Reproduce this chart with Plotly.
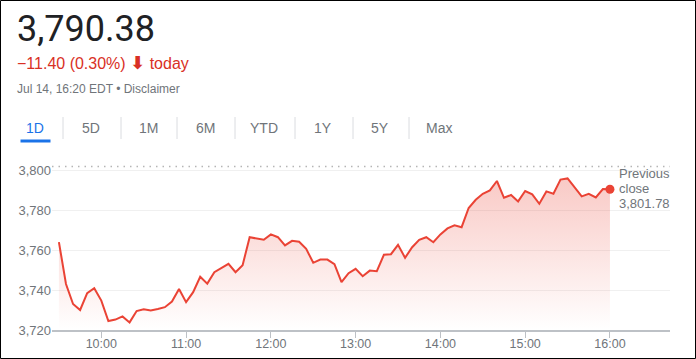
import plotly.graph_objects as go
import pandas as pd

# ---- data ----
session_date = "2020-07-14"
start_time = "09:30"
interval_minutes = 5
prices = [
    3763.9, 3743.0, 3733.0, 3730.0, 3738.4, 3740.9,            # 9:30-9:55
    3734.7, 3724.5, 3725.2, 3726.8, 3723.8, 3729.5,            # 10:00-10:25
    3730.4, 3729.7, 3730.5, 3731.4, 3734.2, 3740.5,            # 10:30-10:55
    3733.9, 3738.9, 3746.6, 3743.2, 3748.9, 3751.1,            # 11:00-11:25
    3753.1, 3748.9, 3752.4, 3766.4, 3765.6, 3765.1,            # 11:30-11:55
    3767.8, 3766.4, 3762.3, 3764.6, 3764.1, 3760.6,            # 12:00-12:25
    3753.6, 3755.2, 3755.2, 3752.9, 3743.9, 3748.4,            # 12:30-12:55
    3750.6, 3746.9, 3749.7, 3749.4, 3757.6, 3757.9,            # 13:00-13:25
    3762.6, 3756.1, 3761.4, 3765.1, 3766.4, 3763.9,            # 13:30-13:55
    3767.8, 3770.8, 3772.3, 3771.4, 3781.0, 3785.1,            # 14:00-14:25
    3788.1, 3789.8, 3794.5, 3786.1, 3787.5, 3784.3,            # 14:30-14:55
    3789.5, 3787.8, 3783.1, 3789.3, 3788.1, 3795.2,            # 15:00-15:25
    3795.8, 3791.1, 3786.8, 3788.1, 3786.3, 3790.5,            # 15:30-15:55
    3790.38,                                                   # 16:00
]
previous_close = 3801.78
last_price = "3,790.38"
change_text = "−11.40 (0.30%)"
timestamp_text = "Jul 14, 16:20 EDT • Disclaimer"
tabs = ["1D", "5D", "1M", "6M", "YTD", "1Y", "5Y", "Max"]
y_ticks = [3720, 3740, 3760, 3780, 3800]
x_ticks = ["10:00", "11:00", "12:00", "13:00", "14:00", "15:00", "16:00"]

times = pd.date_range(f"{session_date} {start_time}", periods=len(prices),
                      freq=f"{interval_minutes}min")

# ---- layout geometry (pixels) ----
W, H = 696, 359
ML, MR, MT, MB = 52, 26, 160, 29
PW, PH = W - ML - MR, H - MT - MB


def px(x):
    return (x - ML) / PW


def py(y):
    return (H - MB - y) / PH


RED = "#ea4335"
GRAY = "#70757a"
FONT = "Liberation Sans, Arial, sans-serif"

fig = go.Figure()
fig.add_trace(go.Scatter(
    x=times, y=prices, mode="lines",
    line=dict(color=RED, width=2),
    fill="tozeroy",
    fillgradient=dict(type="vertical",
                      colorscale=[[0, "rgba(234,67,53,0)"],
                                  [1, "rgba(234,67,53,0.30)"]],
                      start=y_ticks[0], stop=y_ticks[-1]),
    hoverinfo="skip", showlegend=False,
))
fig.add_trace(go.Scatter(
    x=[times[-1]], y=[prices[-1]], mode="markers",
    marker=dict(color=RED, size=9),
    hoverinfo="skip", showlegend=False,
))

shapes = [
    dict(type="line", xref="paper", yref="y", x0=0, x1=1,
         y0=previous_close, y1=previous_close,
         line=dict(color="#b5b5b5", width=1.5, dash="1.5px,5px"), layer="below"),
    # outer border
    dict(type="rect", xref="paper", yref="paper",
         x0=px(0.5), x1=px(695.5), y0=py(358.5), y1=py(0.5),
         line=dict(color="black", width=1)),
    # selected tab underline
    dict(type="line", xref="paper", yref="paper",
         x0=px(20.5), x1=px(50.5), y0=py(141), y1=py(141),
         line=dict(color="#1a73e8", width=3)),
]
sep_x = [63, 121, 177, 235, 295, 353, 409]
for sx in sep_x:
    shapes.append(dict(type="line", xref="paper", yref="paper",
                       x0=px(sx), x1=px(sx), y0=py(117), y1=py(139),
                       line=dict(color="#dadce0", width=1)))

annotations = [
    dict(text=last_price, x=px(15), y=py(29), xanchor="left", yanchor="middle",
         font=dict(family="Roboto", size=36, color="#202124")),
    dict(text=f"{change_text} <b><span style='font-family:DejaVu Sans;font-size:18px'>⬇</span></b> today",
         x=px(15), y=py(62), xanchor="left", yanchor="middle",
         font=dict(family=FONT, size=16, color="#d93025")),
    dict(text=timestamp_text, x=px(15), y=py(89.5), xanchor="left", yanchor="middle",
         font=dict(family=FONT, size=12, color=GRAY)),
]
tab_x = [35, 91, 148, 205, 264, 323, 380, 439]
for t, tx in zip(tabs, tab_x):
    annotations.append(dict(text=t, x=px(tx), y=py(127.5), xanchor="center",
                            yanchor="middle",
                            font=dict(family=FONT, size=14,
                                      color="#1a73e8" if t == "1D" else GRAY)))
for i, line in enumerate(["Previous", "close", f"{previous_close:,.2f}"]):
    annotations.append(dict(text=line, x=px(617), y=py(173 + 15 * i),
                            xanchor="left", yanchor="middle",
                            font=dict(family=FONT, size=13, color=GRAY)))

for a in annotations:
    a.update(xref="paper", yref="paper", showarrow=False)

fig.update_layout(
    width=W, height=H, autosize=False,
    margin=dict(l=ML, r=MR, t=MT, b=MB, pad=0, autoexpand=False),
    paper_bgcolor="white", plot_bgcolor="white",
    font=dict(family=FONT, color=GRAY),
    shapes=shapes, annotations=annotations,
    xaxis=dict(
        type="date", automargin=False,
        range=[f"{session_date} 09:25:06", f"{session_date} 16:42:30"],
        tickvals=[f"{session_date} {t}" for t in x_ticks],
        ticktext=x_ticks,
        ticks="outside", ticklen=6, tickwidth=1, tickcolor="#bdc1c6",
        ticklabelstandoff=-5,
        showline=True, linecolor="#bdc1c6", linewidth=2,
        showgrid=False, zeroline=False,
        tickfont=dict(size=12.5, color=GRAY),
        fixedrange=True,
    ),
    yaxis=dict(
        automargin=False,
        range=[3720, 3805],
        tickvals=y_ticks, tickformat=",",
        showgrid=True, gridcolor="#f0f0f0", gridwidth=1,
        zeroline=False, showline=False, ticks="",
        tickfont=dict(size=13, color=GRAY),
        fixedrange=True,
    ),
)

fig.write_html(
    "out.html",
    config={"displayModeBar": False, "responsive": False},
    default_width=f"{W}px", default_height=f"{H}px",
    post_script="document.body.style.margin='0';document.body.style.padding='0';document.body.style.overflow='hidden';",
)
